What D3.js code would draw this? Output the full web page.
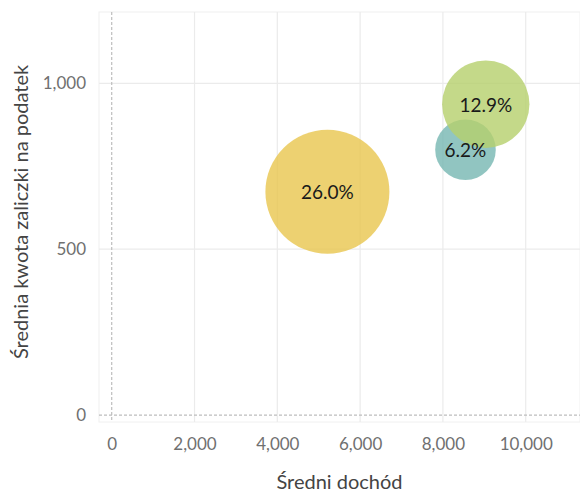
<!DOCTYPE html>
<html>
<head>
<meta charset="utf-8">
<script src="https://cdn.jsdelivr.net/npm/d3@7"></script>
<style>
  html, body { margin: 0; padding: 0; background: #fff; }
  svg { display: block; }
  text { font-family: Lato, "Open Sans", sans-serif; }
</style>
</head>
<body>
<svg id="chart" width="580" height="497"></svg>
<script>
const labels = ["26.0%", "6.2%", "12.9%"];
const shares = [26.0, 6.2, 12.9];
const incomes = [5210, 8545, 9035];
const taxes = [673, 800, 937];
const colors = ["#E8C64E", "#76B7B2", "#B5CF6B"];
const xTicks = [0, 2000, 4000, 6000, 8000, 10000];
const yTicks = [0, 500, 1000];
const xTitle = "Średni dochód";
const yTitle = "Średnia kwota zaliczki na podatek";

(function () {
const svg = d3.select("#chart");
const pL = 99, pR = 580, pT = 12, pB = 422;

const x = d3.scaleLinear().domain([-307, 11311]).range([pL, pR]);
const y = d3.scaleLinear().domain([-21, 1215]).range([pB, pT]);
const r = d3.scaleSqrt().domain([0, 26]).range([0, 62]);

// plot frame (faint)
svg.append("rect").attr("x", pL).attr("y", pT).attr("width", pR - pL).attr("height", pB - pT)
  .attr("fill", "none").attr("stroke", "#f0f0f0").attr("stroke-width", 1);

// grid
const g = svg.append("g");
g.selectAll(".vg").data(xTicks.filter(d => d !== 0)).join("line")
  .attr("x1", d => x(d)).attr("x2", d => x(d)).attr("y1", pT).attr("y2", pB)
  .attr("stroke", "#ebebeb").attr("stroke-width", 1.2);
g.selectAll(".hg").data(yTicks.filter(d => d !== 0)).join("line")
  .attr("y1", d => y(d)).attr("y2", d => y(d)).attr("x1", pL).attr("x2", pR)
  .attr("stroke", "#ebebeb").attr("stroke-width", 1.2);

// zero lines dashed
g.append("line").attr("x1", x(0)).attr("x2", x(0)).attr("y1", pT).attr("y2", pB)
  .attr("stroke", "#bdbdbd").attr("stroke-width", 1.2).attr("stroke-dasharray", "3,2");
g.append("line").attr("x1", pL).attr("x2", pR).attr("y1", y(0)).attr("y2", y(0))
  .attr("stroke", "#bdbdbd").attr("stroke-width", 1.2).attr("stroke-dasharray", "3,2");

// axes
const xAxis = svg.append("g").attr("transform", `translate(0,${pB})`)
  .call(d3.axisBottom(x).tickValues(xTicks).tickFormat(d3.format(",")).tickSize(0).tickPadding(16));
const yAxis = svg.append("g").attr("transform", `translate(${pL},0)`)
  .call(d3.axisLeft(y).tickValues(yTicks).tickFormat(d3.format(",")).tickSize(0).tickPadding(13));
[xAxis, yAxis].forEach(a => {
  a.select(".domain").remove();
  a.selectAll("text").attr("fill", "#707070").style("font-size", "17px").style("font-family", "Lato, sans-serif");
});

// bubbles
const data = labels.map((l, i) => ({ l, s: shares[i], x: incomes[i], y: taxes[i], c: colors[i] }));
svg.append("g").selectAll("circle").data(data).join("circle")
  .attr("cx", d => x(d.x)).attr("cy", d => y(d.y)).attr("r", d => r(d.s))
  .attr("fill", d => d.c).attr("fill-opacity", 0.8);
svg.append("g").selectAll("text").data(data).join("text")
  .attr("x", d => x(d.x)).attr("y", d => y(d.y)).attr("dy", "0.4em")
  .attr("text-anchor", "middle").attr("fill", "#1a1a1a")
  .style("font-size", "19px").text(d => d.l);

// titles
svg.append("text").attr("x", (pL + pR) / 2).attr("y", 489).attr("text-anchor", "middle")
  .attr("fill", "#444").style("font-size", "20px").text(xTitle);
svg.append("text").attr("transform", `translate(28,${(pT + pB) / 2 - 5}) rotate(-90)`)
  .attr("text-anchor", "middle").attr("fill", "#444").style("font-size", "20px").text(yTitle);
})();
</script>
</body>
</html>
